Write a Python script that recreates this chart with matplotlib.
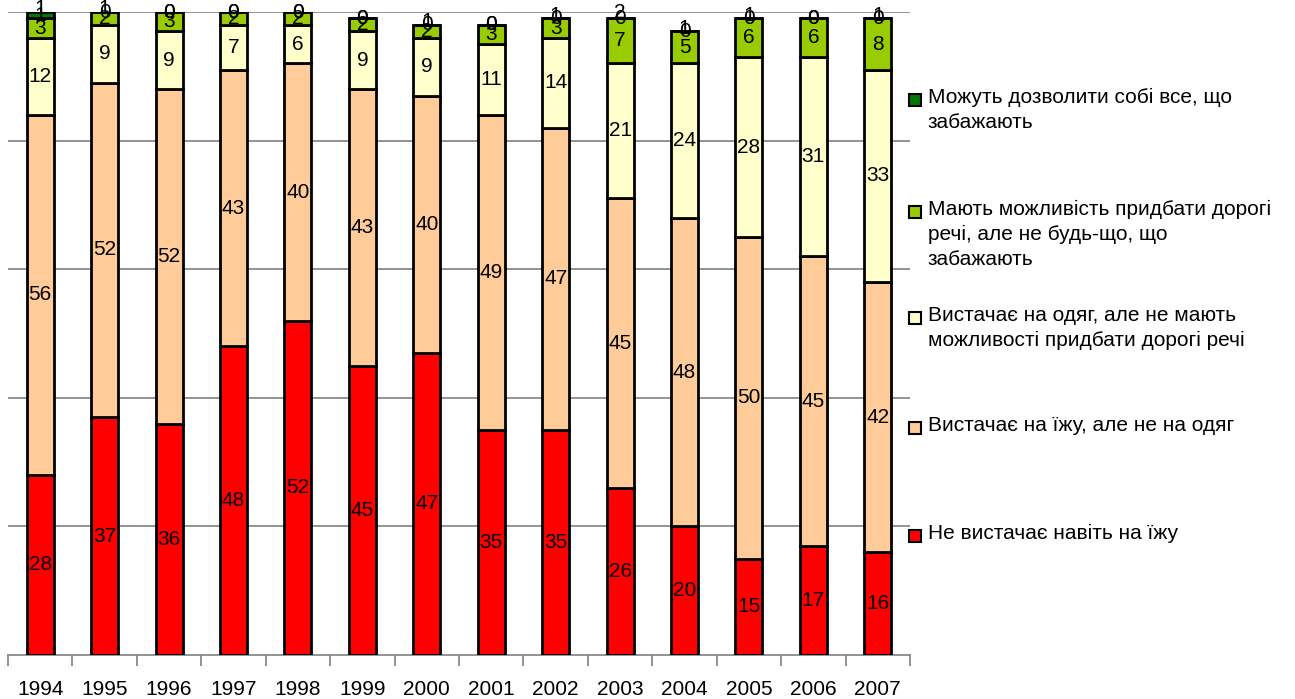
import numpy as np
import matplotlib.pyplot as plt
from matplotlib.patches import Rectangle

plt.rcParams['font.family'] = ['Liberation Sans', 'DejaVu Sans']

years = ['1994', '1995', '1996', '1997', '1998', '1999', '2000',
         '2001', '2002', '2003', '2004', '2005', '2006', '2007']
no_food = [28, 37, 36, 48, 52, 45, 47, 35, 35, 26, 20, 15, 17, 16]
food_only = [56, 52, 52, 43, 40, 43, 40, 49, 47, 45, 48, 50, 45, 42]
clothes = [12, 9, 9, 7, 6, 9, 9, 11, 14, 21, 24, 28, 31, 33]
expensive = [3, 2, 3, 2, 2, 2, 2, 3, 3, 7, 5, 6, 6, 8]
everything = [1, 0, 0, 0, 0, 0, 0, 0, 0, 0, 0, 0, 0, 0]
# unlabelled rest (no answer), only its data labels are visible
no_answer = [1, 1, 0, 0, 0, 0, 1, 0, 1, 2, 1, 1, 0, 1]

series = [no_food, food_only, clothes, expensive, everything]
colors = ['#FF0000', '#FFCC99', '#FFFFCC', '#99CC00', '#007A00']
names = ['Не вистачає навіть на їжу',
         'Вистачає на їжу, але не на одяг',
         'Вистачає на одяг, але не мають\nможливості придбати дорогі речі',
         'Мають можливість придбати дорогі\nречі, але не будь-що, що\nзабажають',
         'Можуть дозволити собі все, що\nзабажають']

W, H = 1295, 699
fig = plt.figure(figsize=(W / 100, H / 100), dpi=100)
ax = fig.add_axes([8 / W, 44 / H, 902 / W, 643 / H])

x = np.arange(len(years))
bottom = np.zeros(len(years))
fs = 15
for vals, col in zip(series, colors):
    vals = np.array(vals, dtype=float)
    ax.bar(x, vals, 0.42, bottom=bottom, color=col, edgecolor='black',
           linewidth=2, zorder=3)
    for xi, b, v in zip(x, bottom, vals):
        ax.text(xi, b + v / 2, f'{int(v)}', ha='center', va='center',
                fontsize=fs, zorder=5, clip_on=False)
    bottom += vals
for xi, b, v in zip(x, bottom, no_answer):
    ax.text(xi, b + v / 2, f'{v}', ha='center', va='center',
            fontsize=fs, zorder=5, clip_on=False)

ax.set_xlim(-0.5, len(years) - 0.5)
ax.set_ylim(0, 100)
ax.set_yticks([20, 40, 60, 80, 100])
ax.yaxis.grid(True, color='#808080', linewidth=1.2, zorder=0)
ax.tick_params(axis='y', left=False, labelleft=False)
for s in ['left', 'right', 'top']:
    ax.spines[s].set_visible(False)
ax.spines['bottom'].set_color('#808080')
ax.spines['bottom'].set_linewidth(1.2)
ax.set_xticks(x)
ax.set_xticklabels(years, fontsize=fs)
ax.set_xticks(np.arange(len(years) + 1) - 0.5, minor=True)
ax.tick_params(axis='x', which='major', length=0, pad=18)
ax.tick_params(axis='x', which='minor', length=8, width=1.2, color='#808080')

# legend, top entry first
first_line_y = [100, 212, 318, 428, 536]
for name, col, yl in zip(names[::-1], colors[::-1], first_line_y):
    fig.patches.append(Rectangle((909 / W, 1 - (yl + 6) / H), 12 / W, 12 / H,
                                 transform=fig.transFigure, facecolor=col,
                                 edgecolor='black', linewidth=1.5))
    fig.text(928 / W, 1 - (yl - 12) / H, name, fontsize=fs, va='top',
             ha='left', linespacing=1.4)

fig.savefig('out.png', dpi=100)
